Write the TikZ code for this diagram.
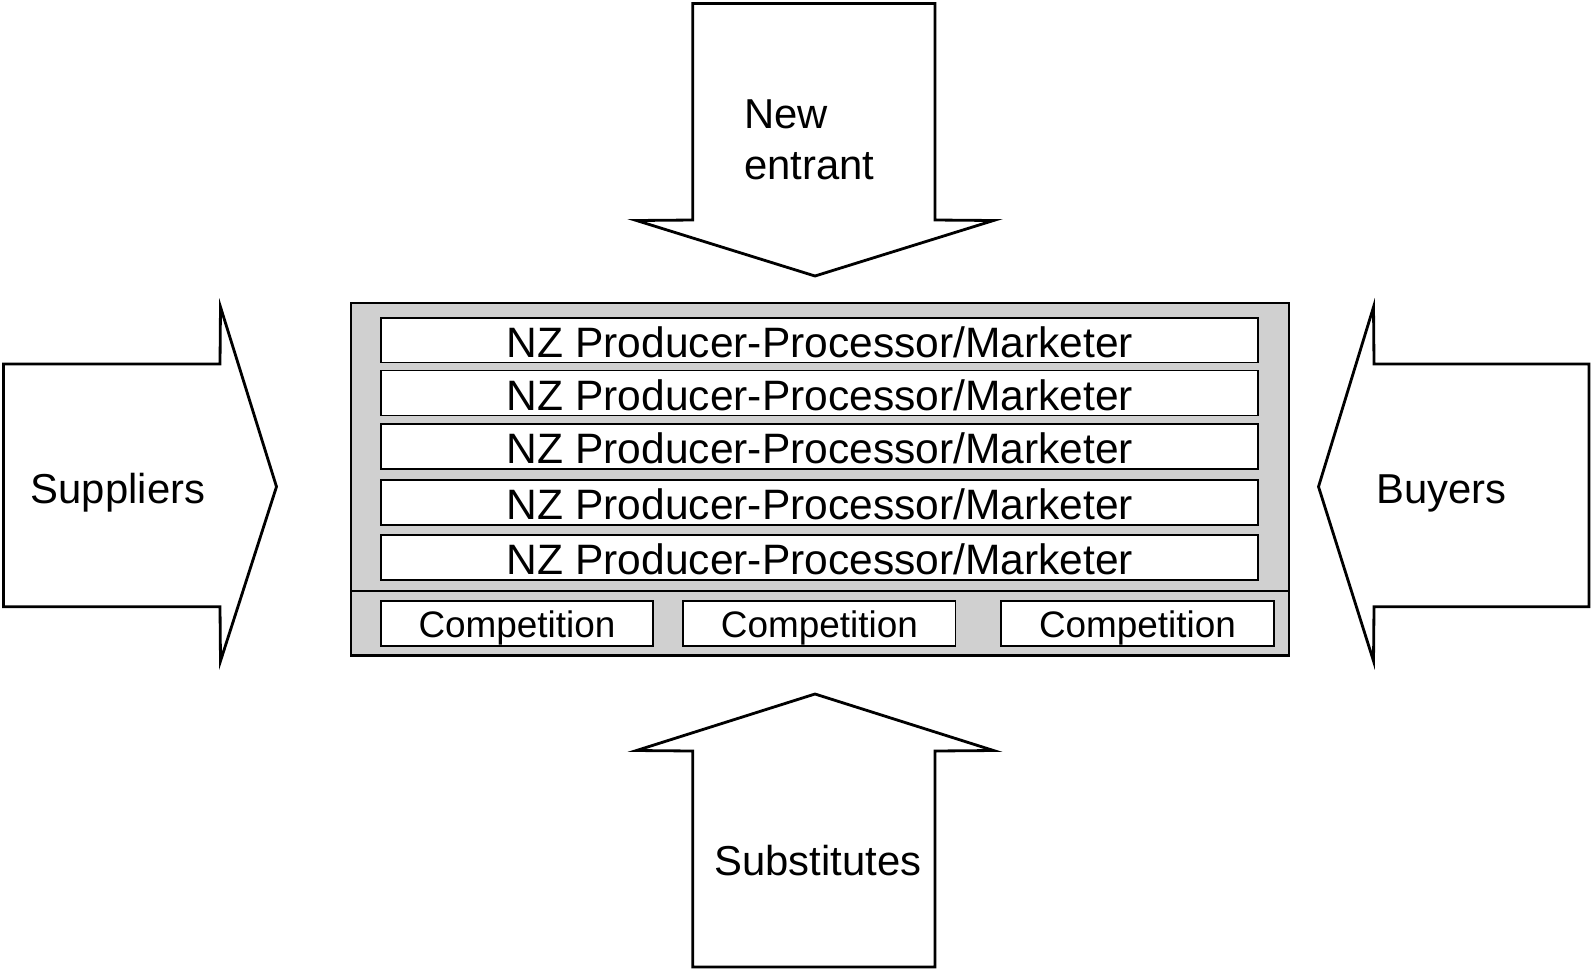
\documentclass[tikz,border=0pt]{standalone}
\usepackage{fontspec}
\setmainfont{Liberation Sans}
\definecolor{panelgrey}{RGB}{208,208,208}
\begin{document}
\begin{tikzpicture}[x=0.02cm, y=0.02cm,
		force/.style={draw=black, line width=1.6pt, fill=white, line join=miter},
		firmbox/.style={draw=black, line width=1.1pt, fill=white},
		firmtext/.style={anchor=base, font=\fontsize{24.2}{29}\selectfont},
		comptext/.style={anchor=base, font=\fontsize{21}{25}\selectfont},
		forcetext/.style={font=\fontsize{23.8}{29}\selectfont}]
		\tikzstyle{every node}+=[inner sep=0pt]
		\useasboundingbox (0,0) rectangle (1592,-971);
		% the four forces
		\draw [force] (692.7,-3.5) -- (935,-3.5) -- (935,-220) -- (993.5,-220.5) -- (815,-276) -- (636.5,-220.5) -- (692.7,-220) -- cycle;
		\draw [force] (815,-694) -- (993.5,-750.5) -- (935,-751) -- (935,-967) -- (692.7,-967) -- (692.7,-751) -- (636.5,-750.5) -- cycle;
		\draw [force] (3.5,-364) -- (220,-364) -- (220.5,-307) -- (276.5,-486.7) -- (220.5,-661) -- (220,-606.7) -- (3.5,-606.7) -- cycle;
		\draw [force] (1589,-364) -- (1374,-364) -- (1373.5,-307) -- (1318.5,-486.7) -- (1373.5,-661) -- (1374,-606.7) -- (1589,-606.7) -- cycle;
		\node (newentrant) [forcetext, anchor=west, align=left] at (744,-139.5) {New\\entrant};
		\node (suppliers) [forcetext, anchor=base] at (118,-503) {Suppliers};
		\node (buyers) [forcetext, anchor=base west] at (1376,-503) {Buyers};
		\node (substitutes) [forcetext, anchor=base] at (818,-875.5) {Substitutes};
		% industry panel
		\draw [black, line width=1.6pt, fill=panelgrey] (351,-303) rectangle (1289,-655.5);
		\draw [black, line width=1.1pt] (351,-591) -- (1289,-591);
		\draw [firmbox] (381,-318) rectangle (1258,-362.5);
		\node (firm1) [firmtext] at (820,-357.5) {NZ Producer-Processor/Marketer};
		\draw [firmbox] (381,-370.5) rectangle (1258,-415.5);
		\node (firm2) [firmtext] at (820,-410.3) {NZ Producer-Processor/Marketer};
		\draw [firmbox] (381,-424) rectangle (1258,-469);
		\node (firm3) [firmtext] at (820,-463.6) {NZ Producer-Processor/Marketer};
		\draw [firmbox] (381,-480) rectangle (1258,-525);
		\node (firm4) [firmtext] at (820,-519.6) {NZ Producer-Processor/Marketer};
		\draw [firmbox] (381,-535) rectangle (1258,-580);
		\node (firm5) [firmtext] at (820,-574.6) {NZ Producer-Processor/Marketer};
		% rivalry
		\draw [firmbox] (381,-600.7) rectangle (653.3,-646);
		\node (comp1) [comptext] at (517,-637) {Competition};
		\draw [firmbox] (683.3,-600.7) rectangle (955.5,-646);
		\node (comp2) [comptext] at (819.4,-637) {Competition};
		\draw [firmbox] (1001,-600.7) rectangle (1274,-646);
		\node (comp3) [comptext] at (1137.5,-637) {Competition};
	\end{tikzpicture}
\end{document}
